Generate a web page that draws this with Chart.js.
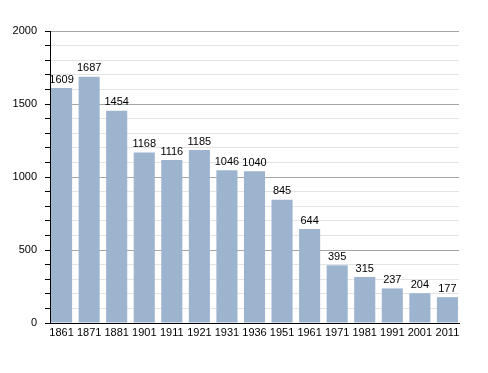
<!DOCTYPE html>
<html><head><meta charset="utf-8">
<script src="https://cdn.jsdelivr.net/npm/chart.js@4/dist/chart.umd.min.js"></script>
<style>html,body{margin:0;padding:0;background:#fff}#w{width:488px;height:373px}</style>
</head><body><div id="w"><canvas id="c"></canvas></div>
<script>
const years = ["1861","1871","1881","1901","1911","1921","1931","1936","1951","1961","1971","1981","1991","2001","2011"];
const population = [1609,1687,1454,1168,1116,1185,1046,1040,845,644,395,315,237,204,177];
const yTickLabels = [0,500,1000,1500,2000];

const points = population.map((v,i)=>({x:i, y:v}));
const FONT = '"Liberation Sans", Arial, sans-serif';

const valueLabels = {
  id:'valueLabels',
  afterDatasetsDraw(chart){
    const ctx = chart.ctx;
    const meta = chart.getDatasetMeta(0);
    ctx.save();
    ctx.font = '11px ' + FONT;
    ctx.fillStyle = '#000';
    ctx.textAlign = 'center';
    ctx.textBaseline = 'bottom';
    meta.data.forEach((bar,i)=>{
      ctx.fillText(String(population[i]), bar.x, bar.y - 3);
    });
    ctx.restore();
  }
};

new Chart(document.getElementById('c'), {
  type:'bar',
  data:{datasets:[{data:points, backgroundColor:'#9db4cf', borderWidth:0, categoryPercentage:0.765, barPercentage:1}]},
  options:{
    responsive:true, maintainAspectRatio:false, animation:false,
    devicePixelRatio:1,
    layout:{padding:{top:31,right:29,left:0,bottom:0}},
    plugins:{legend:{display:false}, tooltip:{enabled:false}},
    scales:{
      x:{
        type:'linear', min:-0.42, max:years.length-1+0.42, offset:false,
        grid:{display:false, drawTicks:false},
        border:{display:true, color:'#000', width:1},
        afterBuildTicks(s){ s.ticks = years.map((_,i)=>({value:i})); },
        ticks:{color:'#000', font:{family:FONT, size:11}, padding:3, maxRotation:0, autoSkip:false,
          callback:(v)=> years[v] ?? ''},
        afterFit(s){ s.height = 50; }
      },
      y:{
        min:0, max:2000,
        ticks:{stepSize:100, autoSkip:false, color:'#000', padding:8,
          font:{family:FONT, size:11},
          callback:(v)=> yTickLabels.includes(v) ? String(v) : ''},
        grid:{
          color:(c)=> (c.tick && c.tick.value % 500 === 0) ? '#a6a6a6' : '#e3e3e3',
          tickColor:'#000', tickLength:5, drawTicks:true
        },
        border:{display:true, color:'#000', width:1},
        afterFit(s){ s.width = 50; }
      }
    }
  },
  plugins:[valueLabels]
});
</script></body></html>
